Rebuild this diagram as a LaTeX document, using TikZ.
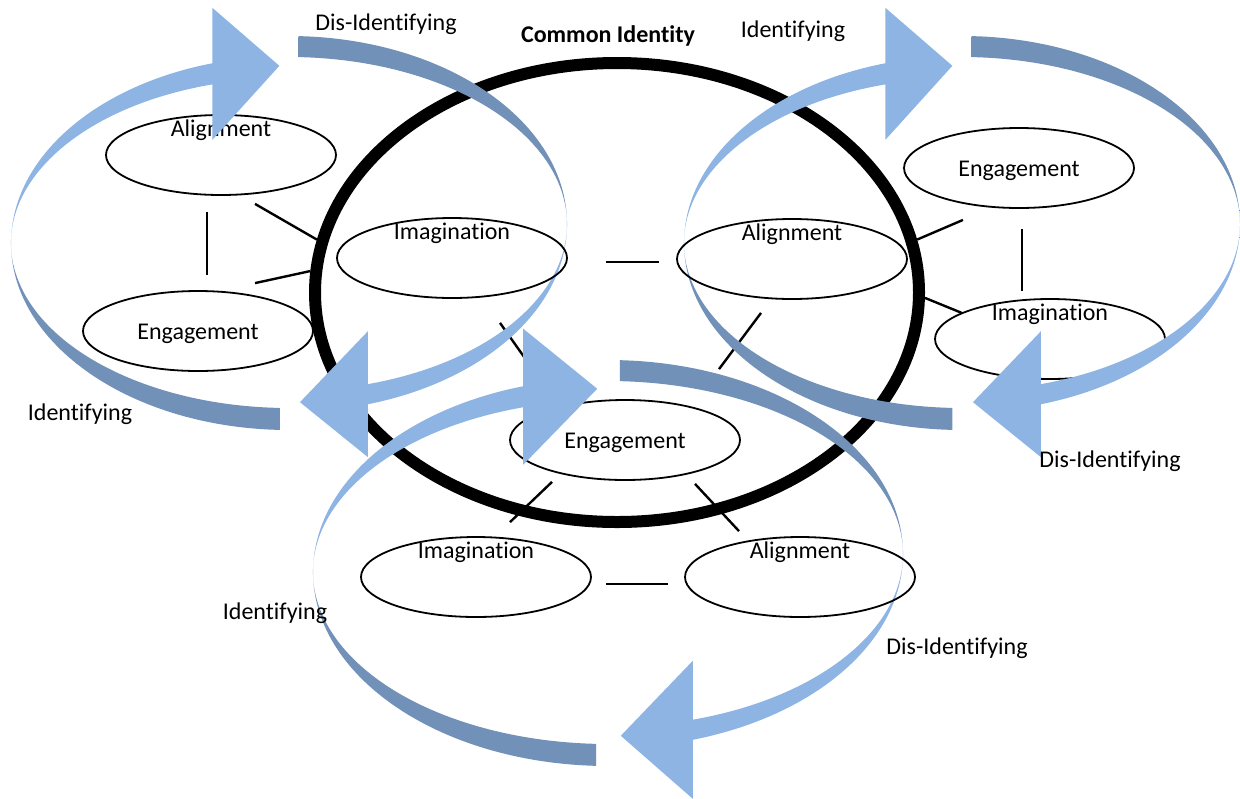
\documentclass[tikz,border=0pt]{standalone}
\usepackage{fontspec}
\setmainfont{Carlito}[Ligatures=CommonOff]
\usetikzlibrary{shapes.geometric,calc}
\definecolor{ringdark}{RGB}{113,145,184}
\definecolor{ringlight}{RGB}{142,180,227}
\pgfdeclareverticalshading{fadeup}{100bp}{color(0bp)=(ringdark); color(43bp)=(ringdark); color(48bp)=(ringlight); color(100bp)=(ringlight)}
\pgfdeclareverticalshading{fadedown}{100bp}{color(0bp)=(ringlight); color(49bp)=(ringlight); color(55bp)=(ringdark); color(100bp)=(ringdark)}
\pgfdeclarelayer{front}
\pgfsetlayers{main,front}
\tikzset{stage/.style={draw, ellipse, line width=0.9pt, minimum width=115pt, minimum height=40pt, inner sep=0pt}}
\tikzset{toptext/.style={label={[yshift=12.3pt]center:#1}}}
\tikzset{midtext/.style={label={[yshift=-1.3pt]center:#1}}}
\tikzset{link/.style={line width=1.2pt}}
% half of a ring with a head: style, centre, x radius, outer/inner y radius,
% start/end angle, head half height, tip offset
\newcommand{\halfring}[9]{%
  \path (#2) ++(#6:#3 and #4) coordinate (hs)
        (#2) ++(#7:#3 and #4) coordinate (ho)
        (#2) ++(#7:#3 and #5) coordinate (hi);
  \path ($(ho)!.5!(hi)$) coordinate (hm);
  \shade[#1] (hs) arc[start angle=#6, end angle=#7, x radius=#3, y radius=#4]
    -- ($(hm)+(0,#8)$) -- ($(hm)+(#9)$) -- ($(hm)-(0,#8)$) -- (hi)
    arc[start angle=#7, end angle=#6, x radius=#3, y radius=#5] -- cycle;}

\begin{document}
\begin{tikzpicture}[x=0.5pt, y=-0.5pt, font=\fontsize{12}{14}\selectfont]
  \useasboundingbox (0,0) rectangle (1240,798);

  \node[draw, ellipse, line width=6pt, minimum width=302pt, minimum height=229.5pt] (ring) at (617,292.5) {};
  \node (common) at (608,36) {\bfseries Common Identity};

  \node[stage, toptext=Alignment] (al1) at (221,155) {};
  \node[stage, midtext=Engagement] (en1) at (198,331) {};
  \node[stage, midtext=Engagement] (en2) at (1019,168) {};
  \node[stage, toptext=Imagination] (im2) at (1050,339) {};
  \node[stage, midtext=Engagement] (en3) at (625,440) {};
  \node[stage, toptext=Imagination] (im3) at (476,577) {};
  \begin{pgfonlayer}{front}
    \node[stage, toptext=Imagination] (im1) at (452,258) {};
    \node[stage, toptext=Alignment] (al2) at (792,259) {};
    \node[stage, toptext=Alignment] (al3) at (800,577) {};
  \end{pgfonlayer}

  \draw[link] ([shift={(-14,16)}]al1.south) -- ([shift={(9,-15)}]en1.north);
  \draw[link] ([shift={(34,8)}]al1.south) -- (ring.170);
  \draw[link] ([shift={(57,-7)}]en1.north) -- (ring.176);
  \draw[link] ([shift={(38,4)}]im1.east) -- ([shift={(-17,3)}]al2.west);
  \draw[link] ([shift={(48,24)}]im1.south) -- ([shift={(-98,-38)}]en3.north);
  \draw[link] ([shift={(-31,13)}]al2.south) -- ([shift={(94,-30)}]en3.north);
  \draw[link] ([shift={(-56,11)}]en2.south) -- (ring.10);
  \draw[link] ([shift={(3,20)}]en2.south) -- ([shift={(-28,-7)}]im2.north);
  \draw[link] (ring.-1) -- ([shift={(-88,-26)}]im2.center);
  \draw[link] ([shift={(-73,1)}]en3.south) -- ([shift={(34,-14)}]im3.north);
  \draw[link] ([shift={(70,3)}]en3.south) -- ([shift={(-61,-5)}]al3.north);
  \draw[link] ([shift={(14,7)}]im3.east) -- ([shift={(-16,7)}]al3.west);

  % identifying / dis-identifying cycles
  \halfring{shading=fadeup}{289,243}{278}{187}{165}{92}{254}{-66}{67,-8}
  \halfring{shading=fadedown}{289,224}{278}{188}{167}{272}{433.5}{63}{-68,8}
  \halfring{shading=fadeup}{962,243}{278}{187}{165}{92}{254}{-66}{67,-8}
  \halfring{shading=fadedown}{962,224}{278}{188}{167}{272}{433.5}{63}{-68,8}
  \halfring{shading=fadeup}{608,572}{295}{194}{172}{92.3}{253.3}{-68}{74,-8}
  \halfring{shading=fadedown}{608,554}{295}{194}{173}{272.3}{433.3}{69}{-72,6}

  \node (dis1) at (386,24) {Dis-Identifying};
  \node (id1) at (80,414) {Identifying};
  \node (id2) at (793,31) {Identifying};
  \node (dis2) at (1110,461) {Dis-Identifying};
  \node (id3) at (275,613) {Identifying};
  \node (dis3) at (957,648) {Dis-Identifying};
\end{tikzpicture}
\end{document}
